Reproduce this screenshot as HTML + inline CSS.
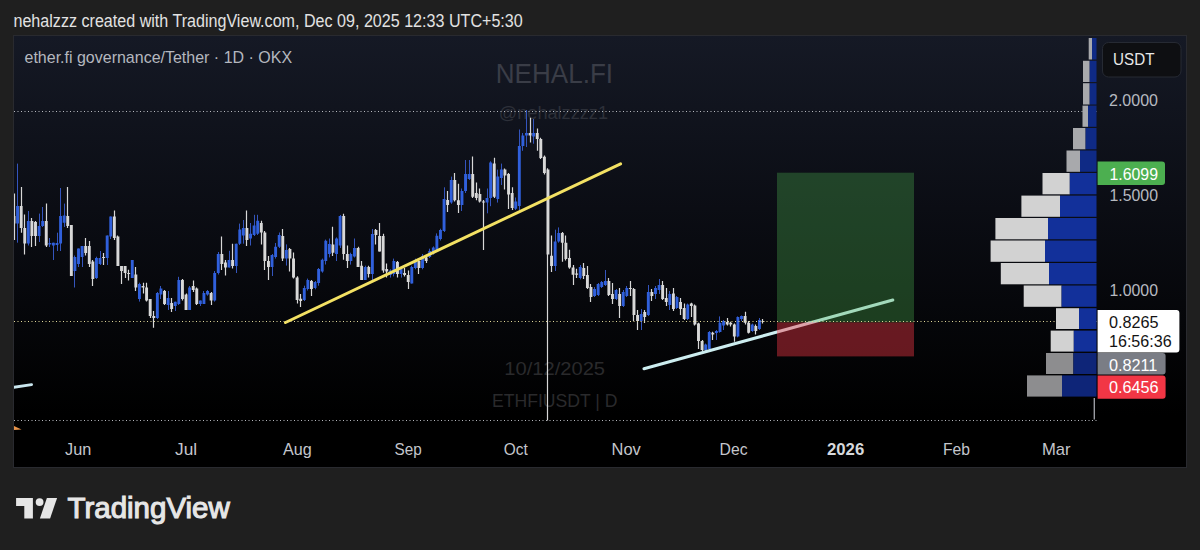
<!DOCTYPE html>
<html><head><meta charset="utf-8">
<style>
html,body{margin:0;padding:0;}
body{width:1200px;height:550px;overflow:hidden;background:#1f1f1f;position:relative;font-family:"Liberation Sans",sans-serif;}
#panel{position:absolute;left:14px;top:36px;width:1172px;height:431px;background:linear-gradient(180deg,#151925 0%,#0b0d14 40%,#000000 88%,#000 100%);box-shadow:0 0 0 1px rgba(60,64,76,0.35);}
svg{position:absolute;left:0;top:0;}
</style></head><body>
<div id="panel"></div>
<svg width="1200" height="550" viewBox="0 0 1200 550" font-family="Liberation Sans, sans-serif">
<text x="13.48" y="26.7" font-size="17.5" fill="#e2e2e2" textLength="509.27" lengthAdjust="spacingAndGlyphs">nehalzzz created with TradingView.com, Dec 09, 2025 12:33 UTC+5:30</text>
<text x="24.50" y="63" font-size="16.6" fill="#b4b7bf" textLength="267.57" lengthAdjust="spacingAndGlyphs">ether.fi governance/Tether · 1D · OKX</text>
<text x="495.77" y="83" font-size="27" fill="#3a3d47" textLength="117.28" lengthAdjust="spacingAndGlyphs">NEHAL.FI</text>
<text x="498.79" y="118.5" font-size="18" fill="#2d3039" textLength="109.22" lengthAdjust="spacingAndGlyphs">@nehalzzzz1</text>
<text x="504.38" y="374.7" font-size="18" fill="#2a2a2c" textLength="100.63" lengthAdjust="spacingAndGlyphs">10/12/2025</text>
<text x="492.02" y="406.7" font-size="18" fill="#2a2a2c" textLength="125.47" lengthAdjust="spacingAndGlyphs">ETHFIUSDT | D</text>
<line x1="14" y1="111.5" x2="1097" y2="111.5" stroke="#b8bac0" stroke-width="1" stroke-dasharray="1 2.5"/>
<line x1="14" y1="420.5" x2="1097" y2="420.5" stroke="#b8bac0" stroke-width="1" stroke-dasharray="1 2.5"/>
<defs><clipPath id="cp"><rect x="14" y="37" width="1083" height="393"/></clipPath></defs><g clip-path="url(#cp)"><path d="M17.50 163.6V242.7M28.50 211.0V245.5M39.50 213.6V242.0M42.50 207.0V227.0M49.50 238.0V247.0M53.50 242.7V260.0M57.50 232.7V251.0M60.50 188.0V251.0M64.50 203.6V227.0M74.50 255.5V287.5M78.50 248.5V267.0M82.50 246.0V267.0M96.50 256.7V279.0M100.50 251.0V265.0M107.50 235.5V265.0M110.50 216.5V239.0M132.50 260.0V278.0M139.50 282.7V301.6M157.50 292.0V319.0M160.50 286.0V299.0M168.50 291.0V310.0M175.50 301.7V311.0M178.50 276.8V305.0M189.50 286.0V310.0M200.50 300.5V306.0M203.50 291.0V304.0M207.50 290.0V295.7M214.50 271.0V301.6M218.50 252.0V274.5M229.50 250.8V267.4M236.50 243.7V273.0M239.50 223.6V245.0M243.50 220.0V243.7M250.50 223.0V245.5M254.50 214.8V236.0M257.50 214.8V235.0M272.50 254.0V276.0M275.50 243.0V258.6M279.50 232.5V248.0M286.50 244.4V265.6M304.50 285.7V301.0M307.50 278.6V290.5M315.50 281.0V289.3M318.50 268.0V285.7M322.50 258.6V272.7M325.50 239.6V264.5M329.50 238.5V257.4M336.50 237.4V261.0M340.50 215.0V248.0M350.50 252.7V264.6M354.50 238.5V257.5M365.50 265.7V280.0M372.50 229.0V280.0M390.50 269.3V277.6M393.50 258.6V276.4M401.50 267.0V277.6M411.50 265.7V283.5M415.50 258.6V269.3M422.50 254.0V269.3M429.50 248.7V258.0M433.50 246.4V254.7M436.50 233.4V251.0M440.50 228.7V240.5M444.50 187.3V232.0M451.50 176.6V203.8M461.50 188.5V211.0M465.50 160.0V193.0M469.50 160.0V180.0M487.50 188.5V213.3M490.50 161.3V206.2M497.50 169.6V202.6M501.50 163.6V185.0M515.50 197.5V210.0M519.50 129.5V210.0M522.50 133.0V150.8M526.50 110.0V147.0M533.50 119.0V143.7M555.50 229.7V271.0M558.50 227.4V242.7M580.50 265.0V279.4M594.50 287.0V297.0M598.50 283.0V296.0M601.50 281.0V288.0M605.50 270.0V286.0M616.50 289.0V300.0M623.50 290.0V307.0M626.50 286.0V297.0M641.50 309.0V330.0M648.50 285.0V316.0M655.50 286.0V299.0M659.50 279.0V294.0M669.50 291.0V310.0M676.50 296.0V309.0M687.50 303.6V320.0M705.50 343.6V351.0M709.50 331.0V350.0M716.50 330.0V340.0M719.50 316.4V332.7M723.50 320.0V330.0M737.50 316.4V337.3M741.50 315.5V321.0M752.50 323.6V331.8M759.50 318.0V330.0" stroke="#3455bd" stroke-width="1" fill="none"/><path d="M14.50 193.6V240.0M21.50 187.0V232.7M24.50 214.5V254.5M31.50 218.0V247.0M35.50 221.0V246.0M46.50 203.6V247.0M67.50 187.0V228.0M71.50 225.0V276.0M85.50 238.0V255.5M89.50 241.0V267.0M92.50 260.0V286.0M103.50 253.0V265.0M114.50 210.6V240.0M117.50 235.5V266.0M121.50 266.0V284.0M125.50 266.0V278.0M128.50 269.7V280.4M135.50 267.0V291.0M143.50 282.7V293.4M146.50 282.7V301.6M150.50 299.0V318.0M153.50 311.0V327.7M164.50 290.0V305.0M171.50 298.0V312.0M182.50 279.0V300.5M186.50 293.4V310.0M193.50 280.4V292.0M196.50 287.5V305.0M211.50 292.0V305.0M221.50 236.6V270.0M225.50 260.0V275.6M232.50 243.7V268.6M246.50 210.6V246.0M261.50 220.7V244.4M264.50 231.0V270.0M268.50 256.0V280.0M282.50 229.0V261.0M289.50 248.0V271.5M293.50 252.6V278.6M297.50 276.3V303.5M300.50 294.0V307.0M311.50 280.0V296.0M332.50 226.7V256.0M343.50 213.7V259.8M347.50 245.6V268.0M358.50 246.8V267.0M361.50 261.0V280.0M368.50 265.7V277.6M375.50 229.0V244.5M379.50 223.0V251.6M383.50 233.8V272.8M386.50 263.4V277.6M397.50 261.0V277.6M404.50 268.0V276.4M408.50 270.5V289.0M418.50 259.8V274.0M426.50 256.0V263.0M447.50 191.0V212.0M454.50 173.0V201.5M458.50 183.7V213.0M472.50 156.5V198.0M476.50 182.6V200.3M479.50 188.5V202.6M483.50 200.0V250.0M494.50 157.7V198.0M504.50 168.4V189.6M508.50 173.0V209.0M512.50 187.3V209.9M530.50 117.7V142.5M537.50 128.4V150.8M540.50 137.8V159.0M544.50 155.6V174.5M547.50 168.3V420.5M551.50 235.6V272.0M562.50 232.0V261.7M565.50 235.6V260.5M569.50 249.8V268.7M573.50 265.0V285.0M576.50 268.7V278.0M583.50 263.0V279.0M587.50 266.0V289.0M590.50 284.0V302.0M608.50 278.0V296.0M612.50 283.0V304.0M619.50 288.0V318.0M630.50 281.0V296.0M633.50 288.0V321.0M637.50 310.0V330.0M644.50 310.0V323.0M651.50 289.0V301.0M662.50 281.0V300.0M666.50 288.0V306.0M673.50 288.0V311.0M680.50 298.0V315.0M684.50 303.6V320.0M691.50 302.7V317.0M694.50 304.5V325.5M698.50 322.7V349.0M702.50 340.0V351.0M712.50 331.8V340.0M727.50 318.0V325.5M730.50 321.8V326.4M734.50 323.6V341.8M745.50 311.8V324.5M748.50 321.0V333.6M755.50 324.5V334.5M762.50 319.0V323.6" stroke="#d8d8d8" stroke-width="1.2" fill="none"/><path d="M16.13 206.0h2.9V223.6h-2.9ZM26.88 221.0h2.9V243.6h-2.9ZM37.64 226.0h2.9V236.0h-2.9ZM41.22 221.0h2.9V226.0h-2.9ZM48.39 243.0h2.9V244.5h-2.9ZM51.97 242.7h2.9V245.5h-2.9ZM55.55 243.0h2.9V245.0h-2.9ZM59.14 216.0h2.9V243.6h-2.9ZM62.72 215.5h2.9V222.7h-2.9ZM73.47 257.0h2.9V271.0h-2.9ZM77.06 248.5h2.9V264.0h-2.9ZM80.64 246.0h2.9V257.0h-2.9ZM94.98 258.0h2.9V278.0h-2.9ZM98.56 258.0h2.9V264.0h-2.9ZM105.73 235.5h2.9V258.0h-2.9ZM109.31 216.5h2.9V236.6h-2.9ZM130.81 260.0h2.9V278.0h-2.9ZM137.98 284.0h2.9V299.0h-2.9ZM155.90 293.0h2.9V318.0h-2.9ZM159.48 288.6h2.9V294.6h-2.9ZM166.65 298.0h2.9V305.0h-2.9ZM173.82 301.7h2.9V306.0h-2.9ZM177.40 280.0h2.9V304.0h-2.9ZM188.15 287.5h2.9V310.0h-2.9ZM198.90 300.5h2.9V304.0h-2.9ZM202.49 293.0h2.9V304.0h-2.9ZM206.07 291.0h2.9V294.6h-2.9ZM213.24 273.0h2.9V300.5h-2.9ZM216.82 254.0h2.9V273.0h-2.9ZM227.57 260.0h2.9V267.4h-2.9ZM234.74 243.7h2.9V266.0h-2.9ZM238.33 229.5h2.9V243.7h-2.9ZM241.91 228.0h2.9V235.5h-2.9ZM249.08 233.7h2.9V238.5h-2.9ZM252.66 225.5h2.9V235.0h-2.9ZM256.24 220.7h2.9V233.7h-2.9ZM270.58 255.0h2.9V267.0h-2.9ZM274.16 246.7h2.9V257.0h-2.9ZM277.75 235.0h2.9V246.7h-2.9ZM284.91 250.0h2.9V258.6h-2.9ZM302.83 288.0h2.9V300.0h-2.9ZM306.42 280.0h2.9V289.0h-2.9ZM313.58 282.0h2.9V288.0h-2.9ZM317.17 269.0h2.9V283.0h-2.9ZM320.75 259.7h2.9V271.5h-2.9ZM324.33 240.8h2.9V261.0h-2.9ZM327.92 244.0h2.9V254.0h-2.9ZM335.09 238.5h2.9V254.0h-2.9ZM338.67 216.0h2.9V245.6h-2.9ZM349.42 254.0h2.9V261.0h-2.9ZM353.00 248.0h2.9V256.5h-2.9ZM363.76 267.0h2.9V280.0h-2.9ZM370.92 234.0h2.9V274.0h-2.9ZM388.84 270.5h2.9V275.0h-2.9ZM392.43 261.0h2.9V274.0h-2.9ZM399.59 269.0h2.9V274.0h-2.9ZM410.34 267.0h2.9V283.5h-2.9ZM413.93 260.0h2.9V268.0h-2.9ZM421.10 256.0h2.9V268.0h-2.9ZM428.26 251.0h2.9V257.0h-2.9ZM431.85 247.6h2.9V253.5h-2.9ZM435.43 235.7h2.9V250.0h-2.9ZM439.01 230.0h2.9V239.0h-2.9ZM442.60 199.0h2.9V231.0h-2.9ZM449.77 180.0h2.9V202.6h-2.9ZM460.52 191.0h2.9V205.0h-2.9ZM464.10 174.0h2.9V191.0h-2.9ZM467.68 174.0h2.9V179.0h-2.9ZM485.60 198.0h2.9V202.6h-2.9ZM489.19 162.5h2.9V198.0h-2.9ZM496.35 176.6h2.9V199.0h-2.9ZM499.94 169.6h2.9V178.0h-2.9ZM514.27 201.6h2.9V208.7h-2.9ZM517.86 146.0h2.9V206.0h-2.9ZM521.44 135.5h2.9V146.0h-2.9ZM525.02 133.0h2.9V135.5h-2.9ZM532.19 133.0h2.9V136.6h-2.9ZM553.69 241.6h2.9V266.0h-2.9ZM557.28 233.0h2.9V241.6h-2.9ZM578.78 267.0h2.9V278.0h-2.9ZM593.11 289.0h2.9V296.0h-2.9ZM596.70 284.0h2.9V295.0h-2.9ZM600.28 282.0h2.9V287.0h-2.9ZM603.87 281.0h2.9V285.0h-2.9ZM614.62 290.0h2.9V299.0h-2.9ZM621.78 292.0h2.9V306.0h-2.9ZM625.37 288.0h2.9V296.0h-2.9ZM639.70 314.0h2.9V321.0h-2.9ZM646.87 292.0h2.9V315.0h-2.9ZM654.04 288.0h2.9V294.0h-2.9ZM657.62 285.0h2.9V290.0h-2.9ZM668.37 294.0h2.9V305.0h-2.9ZM675.54 297.0h2.9V308.0h-2.9ZM686.29 304.5h2.9V319.0h-2.9ZM704.21 344.5h2.9V350.0h-2.9ZM707.79 332.0h2.9V349.0h-2.9ZM714.96 331.0h2.9V333.0h-2.9ZM718.55 322.7h2.9V332.0h-2.9ZM722.13 321.0h2.9V325.5h-2.9ZM736.46 317.0h2.9V336.4h-2.9ZM740.05 316.0h2.9V319.0h-2.9ZM750.80 324.5h2.9V331.0h-2.9ZM757.97 320.0h2.9V329.0h-2.9Z" fill="#3060dc"/><path d="M12.55 216.0h2.9V223.6h-2.9ZM19.72 206.0h2.9V228.0h-2.9ZM23.30 228.0h2.9V243.6h-2.9ZM30.47 221.0h2.9V236.0h-2.9ZM34.05 222.0h2.9V236.0h-2.9ZM44.80 221.0h2.9V245.5h-2.9ZM66.31 216.0h2.9V226.0h-2.9ZM69.89 225.0h2.9V276.0h-2.9ZM84.22 246.0h2.9V253.0h-2.9ZM87.81 246.0h2.9V264.0h-2.9ZM91.39 261.5h2.9V279.0h-2.9ZM102.14 257.0h2.9V258.0h-2.9ZM112.89 216.5h2.9V238.0h-2.9ZM116.48 236.6h2.9V266.0h-2.9ZM120.06 266.0h2.9V271.0h-2.9ZM123.65 266.0h2.9V273.0h-2.9ZM127.23 273.0h2.9V274.0h-2.9ZM134.40 274.5h2.9V287.5h-2.9ZM141.56 286.0h2.9V287.5h-2.9ZM145.15 287.5h2.9V300.5h-2.9ZM148.73 299.0h2.9V316.0h-2.9ZM152.32 316.0h2.9V318.0h-2.9ZM163.07 291.0h2.9V304.0h-2.9ZM170.23 303.0h2.9V309.0h-2.9ZM180.99 280.0h2.9V299.0h-2.9ZM184.57 294.6h2.9V310.0h-2.9ZM191.74 286.0h2.9V290.0h-2.9ZM195.32 288.6h2.9V304.0h-2.9ZM209.66 293.0h2.9V300.5h-2.9ZM220.41 254.0h2.9V264.0h-2.9ZM223.99 262.6h2.9V267.4h-2.9ZM231.16 260.0h2.9V266.0h-2.9ZM245.49 228.0h2.9V240.0h-2.9ZM259.83 223.0h2.9V232.5h-2.9ZM263.41 232.5h2.9V261.0h-2.9ZM266.99 261.0h2.9V267.0h-2.9ZM281.33 236.0h2.9V258.6h-2.9ZM288.50 249.0h2.9V258.6h-2.9ZM292.08 258.6h2.9V277.5h-2.9ZM295.66 277.5h2.9V300.0h-2.9ZM299.25 298.7h2.9V301.0h-2.9ZM310.00 281.0h2.9V289.0h-2.9ZM331.50 244.5h2.9V252.7h-2.9ZM342.25 216.0h2.9V254.0h-2.9ZM345.84 254.0h2.9V261.0h-2.9ZM356.59 248.0h2.9V267.0h-2.9ZM360.17 265.7h2.9V280.0h-2.9ZM367.34 267.0h2.9V274.0h-2.9ZM374.51 230.0h2.9V235.0h-2.9ZM378.09 236.0h2.9V251.6h-2.9ZM381.67 236.0h2.9V270.5h-2.9ZM385.26 269.0h2.9V271.6h-2.9ZM396.01 262.0h2.9V274.0h-2.9ZM403.18 273.0h2.9V275.0h-2.9ZM406.76 275.0h2.9V282.0h-2.9ZM417.51 261.0h2.9V268.0h-2.9ZM424.68 257.5h2.9V261.0h-2.9ZM446.18 200.0h2.9V205.0h-2.9ZM453.35 180.0h2.9V200.3h-2.9ZM456.93 200.3h2.9V205.0h-2.9ZM471.27 174.0h2.9V196.7h-2.9ZM474.85 193.0h2.9V198.0h-2.9ZM478.44 194.0h2.9V201.5h-2.9ZM482.02 201.5h2.9V202.6h-2.9ZM492.77 163.6h2.9V196.7h-2.9ZM503.52 169.6h2.9V175.5h-2.9ZM507.11 174.0h2.9V194.6h-2.9ZM510.69 193.0h2.9V208.0h-2.9ZM528.61 133.0h2.9V135.5h-2.9ZM535.77 133.0h2.9V139.0h-2.9ZM539.36 139.0h2.9V158.0h-2.9ZM542.94 156.7h2.9V173.0h-2.9ZM546.53 169.5h2.9V254.6h-2.9ZM550.11 255.7h2.9V266.0h-2.9ZM560.86 233.0h2.9V242.7h-2.9ZM564.44 242.7h2.9V259.0h-2.9ZM568.03 258.0h2.9V267.6h-2.9ZM571.61 267.6h2.9V274.7h-2.9ZM575.20 273.5h2.9V274.7h-2.9ZM582.36 268.0h2.9V276.0h-2.9ZM585.95 275.0h2.9V288.0h-2.9ZM589.53 287.0h2.9V297.0h-2.9ZM607.45 281.0h2.9V295.0h-2.9ZM611.03 294.0h2.9V299.0h-2.9ZM618.20 294.0h2.9V306.0h-2.9ZM628.95 288.0h2.9V289.0h-2.9ZM632.54 289.0h2.9V315.0h-2.9ZM636.12 315.0h2.9V321.0h-2.9ZM643.29 312.0h2.9V317.0h-2.9ZM650.45 292.0h2.9V296.0h-2.9ZM661.21 285.0h2.9V299.0h-2.9ZM664.79 298.0h2.9V302.0h-2.9ZM671.96 293.6h2.9V309.0h-2.9ZM679.12 302.0h2.9V309.0h-2.9ZM682.71 308.0h2.9V319.0h-2.9ZM689.88 303.6h2.9V306.0h-2.9ZM693.46 305.5h2.9V324.5h-2.9ZM697.04 323.6h2.9V341.0h-2.9ZM700.63 341.0h2.9V350.0h-2.9ZM711.38 332.7h2.9V334.5h-2.9ZM725.71 322.0h2.9V324.5h-2.9ZM729.30 322.7h2.9V324.5h-2.9ZM732.88 324.5h2.9V336.4h-2.9ZM743.63 316.0h2.9V322.7h-2.9ZM747.22 322.7h2.9V332.7h-2.9ZM754.38 326.0h2.9V331.0h-2.9ZM761.55 321.0h2.9V322.0h-2.9Z" fill="#d8d8d8"/></g>
<line x1="285.5" y1="322.5" x2="620.6" y2="163.8" stroke="#f3e163" stroke-width="3" stroke-linecap="round"/>
<line x1="644" y1="368.8" x2="892.8" y2="300" stroke="#cdeef0" stroke-width="3" stroke-linecap="round"/>
<line x1="13" y1="387.4" x2="31.6" y2="384.6" stroke="#c9e6ee" stroke-width="2.8" stroke-linecap="round" clip-path="url(#cp)"/>
<rect x="777" y="172.7" width="137" height="149.7" fill="rgba(76,175,80,0.33)"/>
<rect x="777" y="322.4" width="137" height="34" fill="rgba(242,54,69,0.42)"/>
<line x1="14" y1="321.5" x2="1097" y2="321.5" stroke="#e2d99a" stroke-width="1" stroke-dasharray="1 2.5"/>
<rect x="1088.7" y="38" width="3.3" height="21.5" fill="#a8a9ac"/><rect x="1092" y="38" width="4.5" height="21.5" fill="#0f2a85"/><rect x="1083" y="60.8" width="6.7" height="21.2" fill="#a8a9ac"/><rect x="1089.7" y="60.8" width="6.8" height="21.2" fill="#0f2a85"/><rect x="1083" y="83.2" width="6.7" height="21.3" fill="#a8a9ac"/><rect x="1089.7" y="83.2" width="6.8" height="21.3" fill="#0f2a85"/><rect x="1082.5" y="105.6" width="5.5" height="21.2" fill="#a8a9ac"/><rect x="1088" y="105.6" width="8.5" height="21.2" fill="#0f2a85"/><rect x="1073" y="128" width="12.6" height="21.3" fill="#a8a9ac"/><rect x="1085.6" y="128" width="10.9" height="21.3" fill="#0f2a85"/><rect x="1066.5" y="150.5" width="13.5" height="21.3" fill="#a8a9ac"/><rect x="1080" y="150.5" width="16.5" height="21.3" fill="#0f2a85"/><rect x="1042.5" y="173" width="27.3" height="21.3" fill="#d2d2d2"/><rect x="1069.8" y="173" width="26.7" height="21.3" fill="#12309a"/><rect x="1021.4" y="195.6" width="38.6" height="21.2" fill="#d2d2d2"/><rect x="1060" y="195.6" width="36.5" height="21.2" fill="#12309a"/><rect x="995.4" y="218" width="52.6" height="21.3" fill="#d2d2d2"/><rect x="1048" y="218" width="48.5" height="21.3" fill="#12309a"/><rect x="990.6" y="240.5" width="54.4" height="21.3" fill="#d2d2d2"/><rect x="1045" y="240.5" width="51.5" height="21.3" fill="#12309a"/><rect x="1000.8" y="263" width="48.2" height="21.3" fill="#d2d2d2"/><rect x="1049" y="263" width="47.5" height="21.3" fill="#12309a"/><rect x="1023.7" y="285.5" width="37.9" height="21.3" fill="#d2d2d2"/><rect x="1061.6" y="285.5" width="34.9" height="21.3" fill="#12309a"/><rect x="1056" y="308.2" width="23.0" height="20.8" fill="#d2d2d2"/><rect x="1079" y="308.2" width="17.5" height="20.8" fill="#12309a"/><rect x="1050.7" y="330.6" width="23.1" height="21.0" fill="#d2d2d2"/><rect x="1073.8" y="330.6" width="22.7" height="21.0" fill="#12309a"/><rect x="1046" y="353" width="27.4" height="21.0" fill="#8d8d8f"/><rect x="1073.4" y="353" width="23.1" height="21.0" fill="#0e2578"/><rect x="1027" y="375.4" width="35.0" height="21.2" fill="#8d8d8f"/><rect x="1062" y="375.4" width="34.5" height="21.2" fill="#0e2578"/><rect x="1093.6" y="398" width="1.4" height="21.5" fill="#9a9ca2"/>
<polygon points="14,426 14,430 21.5,429.6" fill="#e8944a"/>
<rect x="1102.5" y="42.5" width="78.5" height="34.5" rx="6" fill="#0e0f12" stroke="#262a33" stroke-width="1"/>
<text x="1113.08" y="65.3" font-size="16.5" fill="#e8e8e8" textLength="41.39" lengthAdjust="spacingAndGlyphs">USDT</text>
<g>
<text x="1109.00" y="106" font-size="16.2" fill="#b6b9c0" textLength="49.00" lengthAdjust="spacingAndGlyphs">2.0000</text>
<text x="1109.52" y="200.5" font-size="16.2" fill="#b6b9c0" textLength="48.48" lengthAdjust="spacingAndGlyphs">1.5000</text>
<text x="1109.52" y="296" font-size="16.2" fill="#b6b9c0" textLength="48.48" lengthAdjust="spacingAndGlyphs">1.0000</text>
</g>
<path d="M1097.6 161.5H1162a3 3 0 0 1 3 3V182a3 3 0 0 1 -3 3H1097.6Z" fill="#4caf50"/>
<text x="1109.52" y="179.5" font-size="16.2" fill="#ffffff" textLength="48.48" lengthAdjust="spacingAndGlyphs">1.6099</text>
<path d="M1097.6 310H1176.4a3 3 0 0 1 3 3V349.5a3 3 0 0 1 -3 3H1097.6Z" fill="#ffffff"/>
<text x="1109.00" y="327.8" font-size="16.2" fill="#131313" textLength="49.60" lengthAdjust="spacingAndGlyphs">0.8265</text>
<text x="1109.01" y="346.8" font-size="16.2" fill="#131313" textLength="62.60" lengthAdjust="spacingAndGlyphs">16:56:36</text>
<path d="M1097.6 353H1162.6a3 3 0 0 1 3 3V371.5a3 3 0 0 1 -3 3H1097.6Z" fill="#7a7d85"/>
<text x="1108.90" y="370.6" font-size="16.2" fill="#ffffff" textLength="48.50" lengthAdjust="spacingAndGlyphs">0.8211</text>
<path d="M1097.6 375.6H1162.6a3 3 0 0 1 3 3V395.8a3 3 0 0 1 -3 3H1097.6Z" fill="#f23645"/>
<text x="1108.90" y="392.8" font-size="16.2" fill="#ffffff" textLength="49.70" lengthAdjust="spacingAndGlyphs">0.6456</text>
<g>
<text x="65.00" y="455.4" font-size="17" fill="#c4c6cc" textLength="26.24" lengthAdjust="spacingAndGlyphs">Jun</text>
<text x="175.00" y="455.4" font-size="17" fill="#c4c6cc" textLength="22.09" lengthAdjust="spacingAndGlyphs">Jul</text>
<text x="283.00" y="455.4" font-size="17" fill="#c4c6cc" textLength="28.68" lengthAdjust="spacingAndGlyphs">Aug</text>
<text x="394.50" y="455.4" font-size="17" fill="#c4c6cc" textLength="27.16" lengthAdjust="spacingAndGlyphs">Sep</text>
<text x="503.75" y="455.4" font-size="17" fill="#c4c6cc" textLength="24.00" lengthAdjust="spacingAndGlyphs">Oct</text>
<text x="611.53" y="455.4" font-size="17" fill="#c4c6cc" textLength="29.23" lengthAdjust="spacingAndGlyphs">Nov</text>
<text x="719.58" y="455.4" font-size="17" fill="#c4c6cc" textLength="27.96" lengthAdjust="spacingAndGlyphs">Dec</text>
<text x="827.00" y="455.4" font-size="17" font-weight="bold" fill="#d6d8dc" textLength="37.25" lengthAdjust="spacingAndGlyphs">2026</text>
<text x="942.88" y="455.4" font-size="17" fill="#c4c6cc" textLength="27.04" lengthAdjust="spacingAndGlyphs">Feb</text>
<text x="1042.02" y="455.4" font-size="17" fill="#c4c6cc" textLength="28.65" lengthAdjust="spacingAndGlyphs">Mar</text>
</g>
<g fill="#e6e6e6">
<path d="M16.1 497.9H32.9V518.4H24.3V505.9H16.1Z"/>
<circle cx="39.6" cy="502.1" r="3.9"/>
<path d="M46.9 497.9H57.1L50.1 518.4H39.9Z"/>
</g>
<text x="67.50" y="517.8" font-size="29.5" stroke="#e6e6e6" stroke-width="1.1" fill="#e6e6e6" textLength="162.30" lengthAdjust="spacingAndGlyphs">TradingView</text>
</svg>
</body></html>
